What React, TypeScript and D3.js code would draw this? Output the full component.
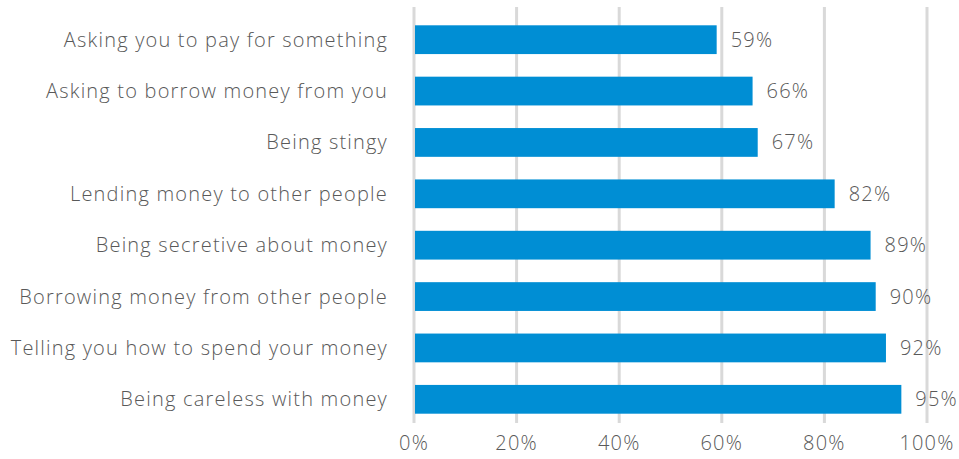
import React from "react";
import * as d3 from "d3";

const categories = [
  "Asking you to pay for something",
  "Asking to borrow money from you",
  "Being stingy",
  "Lending money to other people",
  "Being secretive about money",
  "Borrowing money from other people",
  "Telling you how to spend your money",
  "Being careless with money",
];
const values = [59, 66, 67, 82, 89, 90, 92, 95];
const ticks = [0, 20, 40, 60, 80, 100];

const W = 959;
const H = 459;
const FONT = "'Open Sans', Lato, sans-serif";
const TEXT = "#595959";
const LS = 1.2;
const FS = 20;

export default function App() {
  const x = d3.scaleLinear().domain([0, 100]).range([414, 927]);
  const y = d3.scaleBand<string>().domain(categories).range([14, 425]).paddingInner(0.44).paddingOuter(0.22);
  return (
    <svg width={W} height={H} style={{ position: "absolute", left: 0, top: 0 }}>
      <rect width={W} height={H} fill="#fff" />
      {ticks.map((t) => (
        <g key={t}>
          <line x1={x(t)} x2={x(t)} y1={7} y2={423} stroke="#D9D9D9" strokeWidth={3} />
          <text x={x(t)} y={450} textAnchor="middle" fontFamily={FONT} fontWeight={300} letterSpacing={LS} fontSize={FS} fill={TEXT}>
            {t}%
          </text>
        </g>
      ))}
      {categories.map((c, i) => (
        <g key={c}>
          <rect x={x(0) + 1} y={y(c)} width={x(values[i]) - x(0) - 1} height={y.bandwidth()} fill="#008ED4" />
          <text x={388} y={(y(c) as number) + y.bandwidth() / 2} dy="0.35em" textAnchor="end" fontFamily={FONT} fontWeight={300} letterSpacing={LS} fontSize={FS} fill={TEXT}>
            {c}
          </text>
          <text x={x(values[i]) + 14} y={(y(c) as number) + y.bandwidth() / 2} dy="0.35em" fontFamily={FONT} fontWeight={300} letterSpacing={LS} fontSize={FS} fill={TEXT}>
            {values[i]}%
          </text>
        </g>
      ))}
    </svg>
  );
}
